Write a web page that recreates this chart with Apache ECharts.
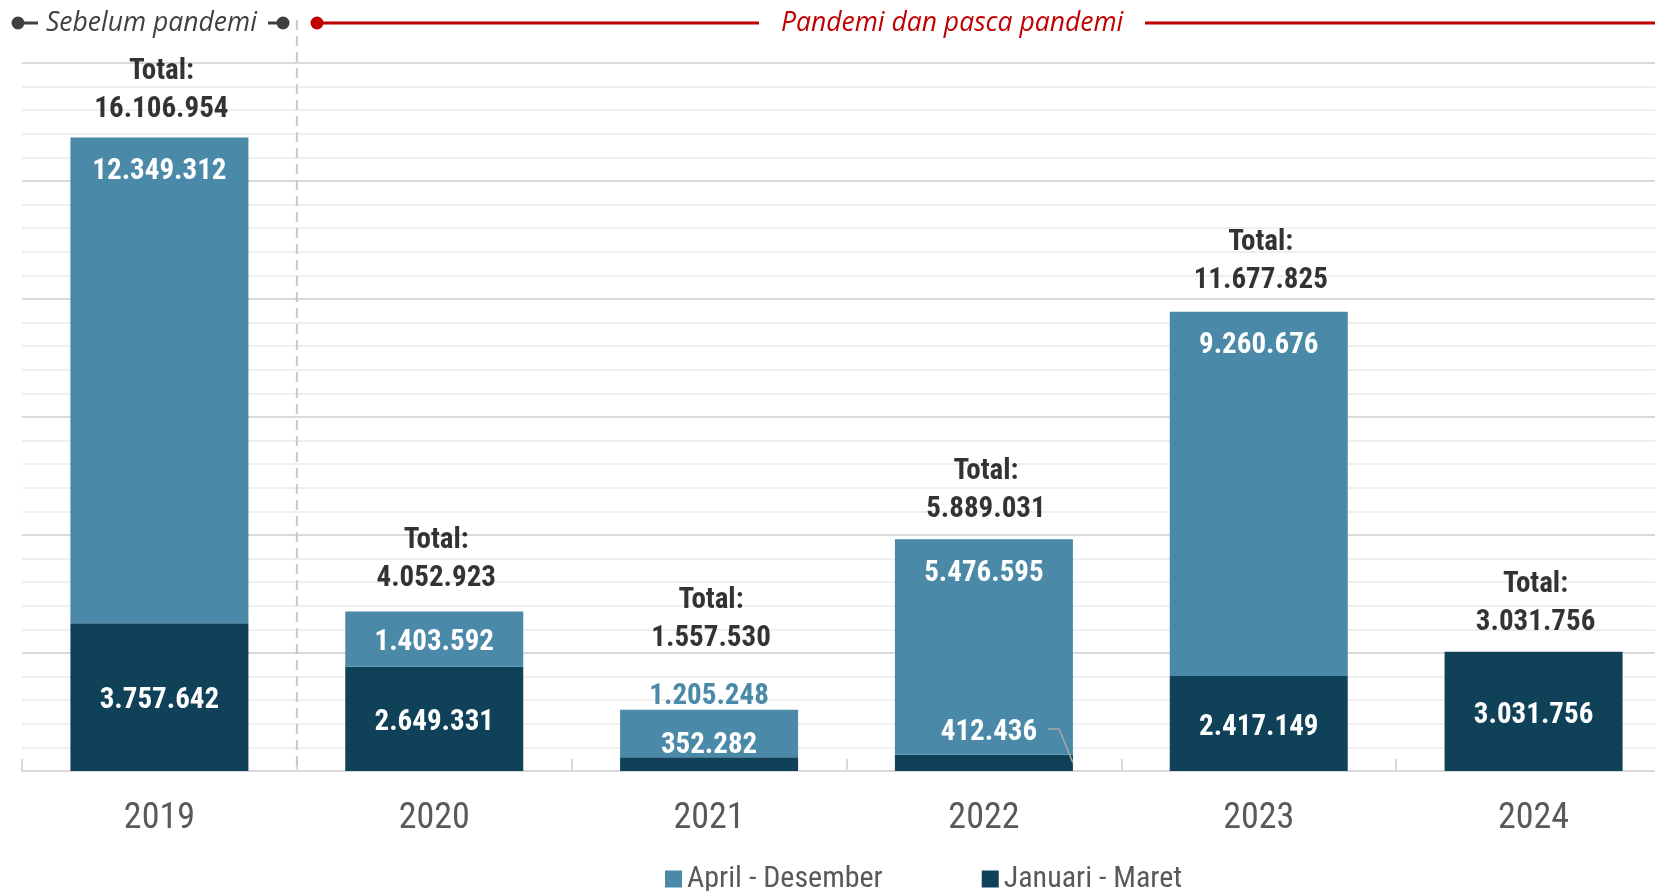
<!DOCTYPE html>
<html>
<head>
<meta charset="utf-8">
<title>Jumlah per tahun</title>
<script src="https://cdn.jsdelivr.net/npm/echarts@6/dist/echarts.min.js"></script>
<style>
  html, body { margin: 0; padding: 0; background: #ffffff; overflow: hidden; width: 1655px; height: 891px; }
  /* the plot area runs a little past the right edge of the page */
  #chart { width: 1671px; height: 891px; }
</style>
</head>
<body>
<div id="chart"></div>
<script>
// Data
const years = ['2019', '2020', '2021', '2022', '2023', '2024'];
const aprDes = [12349312, 1403592, 1205248, 5476595, 9260676, 0];
const janMar = [3757642, 2649331, 352282, 412436, 2417149, 3031756];
const totals = [16106954, 4052923, 1557530, 5889031, 11677825, 3031756];
const seriesNames = ['April - Desember', 'Januari - Maret'];
const periodLabels = ['Sebelum pandemi', 'Pandemi dan pasca pandemi'];

// Style
const LIGHT = '#4A8AA8';
const DARK = '#0F4159';
const NARROW = "'Liberation Sans Narrow','Arial Narrow','Roboto Condensed','DejaVu Sans Condensed',sans-serif";
const ITALIC = "'Open Sans','Noto Sans',sans-serif";
const BAR_W = 178;

function fmt(v) {
  return String(v).replace(/\B(?=(\d{3})+(?!\d))/g, '.');
}

const valueLabel = {
  show: true,
  color: '#ffffff',
  fontFamily: NARROW,
  fontWeight: 'bold',
  fontSize: 29,
  offset: [0, 4],
  formatter: p => fmt(p.value)
};

const janMarData = janMar.map((v, i) => {
  const item = { value: v };
  if (i === 2) item.label = { position: 'top', distance: 1 };
  if (i === 3) item.label = { position: 'inside', offset: [5, -30] };
  return item;
});

const aprDesData = aprDes.map((v, i) => {
  const item = { value: v };
  if (i === 0 || i === 3 || i === 4) item.label = { position: 'insideTop', distance: 16 };
  if (i === 2) item.label = { position: 'top', distance: 2, color: LIGHT };
  if (v === 0) item.label = { show: false };
  return item;
});

const totalGap = [13, 18, 56, 15, 16, 14];
const totalData = totals.map((v, i) => ({ value: v, label: { distance: totalGap[i] } }));

const chart = echarts.init(document.getElementById('chart'), null, { renderer: 'canvas' });

const option = {
  animation: false,
  backgroundColor: '#ffffff',
  grid: { left: 22, right: 0, top: 63, bottom: 120, containLabel: false },
  legend: {
    data: seriesNames,
    left: 660,
    top: 859,
    icon: 'rect',
    itemWidth: 17,
    itemHeight: 17,
    itemGap: 99,
    textStyle: { fontFamily: NARROW, fontSize: 30, color: '#595959' }
  },
  xAxis: {
    type: 'category',
    data: years,
    axisLine: { show: true, lineStyle: { color: '#D9D9D9', width: 2 } },
    axisTick: { show: true, inside: true, length: 12, lineStyle: { color: '#D9D9D9', width: 2 } },
    axisLabel: { fontFamily: NARROW, fontSize: 36, color: '#595959', margin: 30 },
    splitLine: { show: false }
  },
  yAxis: {
    type: 'value',
    min: 0,
    max: 18000000,
    interval: 3000000,
    axisLabel: { show: false },
    axisLine: { show: false },
    axisTick: { show: false },
    splitLine: { show: true, lineStyle: { color: '#D9D9D9', width: 2 } },
    minorTick: { show: false, splitNumber: 5 },
    minorSplitLine: { show: true, lineStyle: { color: '#EFEFEF', width: 2 } }
  },
  series: [
    {
      name: seriesNames[1],
      type: 'bar',
      stack: 'jumlah',
      barWidth: BAR_W,
      itemStyle: { color: DARK },
      label: Object.assign({ position: 'inside' }, valueLabel),
      data: janMarData,
      z: 2
    },
    {
      name: seriesNames[0],
      type: 'bar',
      stack: 'jumlah',
      barWidth: BAR_W,
      itemStyle: { color: LIGHT },
      label: Object.assign({ position: 'inside' }, valueLabel),
      data: aprDesData,
      z: 2
    },
    {
      name: 'Total',
      type: 'scatter',
      symbolSize: 0,
      silent: true,
      label: {
        show: true,
        position: 'top',
        color: '#000000',
        fontFamily: NARROW,
        fontWeight: 'bold',
        fontSize: 29,
        lineHeight: 38,
        align: 'center',
        offset: [2, 4],
        formatter: p => 'Total:\n' + fmt(p.value)
      },
      data: totalData,
      z: 5
    }
  ]
};

chart.setOption(option);

// Decorations positioned from the axis scales
const px = (cat) => chart.convertToPixel({ xAxisIndex: 0 }, cat);
const py = (val) => chart.convertToPixel({ yAxisIndex: 0 }, val);
const boundaryX = (px(years[0]) + px(years[1])) / 2;
const baseY = py(0);

// leader line for the small 2022 Januari - Maret segment
const measure = document.createElement('canvas').getContext('2d');
measure.font = 'bold 29px ' + NARROW;
const w2022 = measure.measureText(fmt(janMar[3])).width;
const labelCx = px(years[3]) + 5;
const labelCy = py(janMar[3] / 2) - 34;
const labelRight = labelCx + w2022 / 2;
const barRight = px(years[3]) + BAR_W / 2;

const Y = 23;
const GRAY = '#404040';
const RED = '#C00000';

chart.setOption({
  graphic: [
    {
      type: 'line', silent: true, z: 1,
      shape: { x1: boundaryX, y1: 20, x2: boundaryX, y2: baseY },
      style: { stroke: '#C8C8C8', lineWidth: 2, lineDash: [10, 6] }
    },
    // period: before the pandemic
    { type: 'line', silent: true, shape: { x1: 18, y1: Y, x2: 38, y2: Y }, style: { stroke: GRAY, lineWidth: 3 } },
    { type: 'circle', silent: true, shape: { cx: 18, cy: Y, r: 6.5 }, style: { fill: GRAY } },
    {
      type: 'text', silent: true, x: 46, y: Y,
      style: { text: periodLabels[0], fill: GRAY, font: 'italic 26.5px ' + ITALIC, verticalAlign: 'middle', align: 'left' }
    },
    { type: 'line', silent: true, shape: { x1: 268, y1: Y, x2: 283, y2: Y }, style: { stroke: GRAY, lineWidth: 3 } },
    { type: 'circle', silent: true, shape: { cx: 283, cy: Y, r: 6.5 }, style: { fill: GRAY } },
    // period: pandemic and after
    { type: 'line', silent: true, shape: { x1: 317, y1: Y, x2: 759, y2: Y }, style: { stroke: RED, lineWidth: 3 } },
    { type: 'circle', silent: true, shape: { cx: 317, cy: Y, r: 6.5 }, style: { fill: RED } },
    {
      type: 'text', silent: true, x: 781, y: Y,
      style: { text: periodLabels[1], fill: RED, font: 'italic 26.5px ' + ITALIC, verticalAlign: 'middle', align: 'left' }
    },
    { type: 'line', silent: true, shape: { x1: 1145, y1: Y, x2: 1671, y2: Y }, style: { stroke: RED, lineWidth: 3 } },
    // leader line
    {
      type: 'polyline', silent: true, z: 10,
      shape: { points: [[labelRight + 11, labelCy], [labelRight + 22, labelCy], [barRight, py(janMar[3] / 2)]] },
      style: { stroke: '#A6A6A6', lineWidth: 1.5, fill: null }
    }
  ]
});
</script>
</body>
</html>
